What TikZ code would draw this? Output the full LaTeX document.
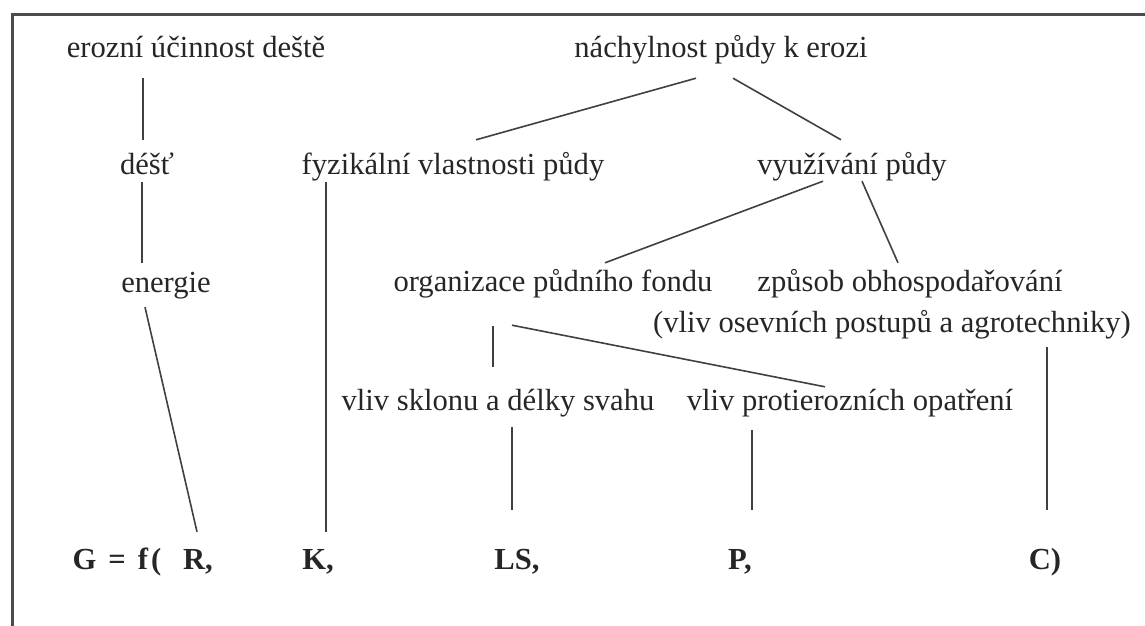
\documentclass[tikz,border=0pt]{standalone}
\usepackage{fontspec}
\setmainfont{Liberation Serif}
\usepackage{tikz}
\usepackage{xcolor}

\begin{document}
\begin{tikzpicture}[x=1pt,y=-1pt,
  every node/.style={font=\fontsize{30.6}{42}\selectfont,text=black!85,inner sep=0pt,text height=21pt,text depth=7pt},
  fac/.style={font=\fontsize{30.6}{42}\selectfont\bfseries},
  conn/.style={draw=black!75,line width=1.6pt}]
\useasboundingbox (0,0) rectangle (1145,626);
% frame (only top and left edge visible)
\draw[black!70,line width=3pt] (12,626) -- (12,15) -- (1145,15);
% first row
\node (eroz) at (196,50) {erozní účinnost deště};
\node (nach) at (721,50) {náchylnost půdy k erozi};
% second row
\node (dest) at (147,167) {déšť};
\node (fyz) at (453,167) {fyzikální vlastnosti půdy};
\node (vyuz) at (852,167) {využívání půdy};
% third row
\node (ener) at (166,285) {energie};
\node (org) at (553,284) {organizace půdního fondu};
\node (zpus) at (910,284) {způsob obhospodařování};
\node (osev) at (892,325) {(vliv osevních postupů a agrotechniky)};
% fourth row
\node (sklon) at (498,403) {vliv sklonu a délky svahu};
\node (opat) at (850,403) {vliv protierozních opatření};
% equation
\node[fac] (eq) at (117,562) {G\hspace{12pt}=\hspace{12pt}f\hspace{3pt}(};
\node[fac] (R) at (198,562) {R,};
\node[fac] (K) at (318,562) {K,};
\node[fac] (LS) at (517,562) {LS,};
\node[fac] (P) at (740,562) {P,};
\node[fac] (C) at (1045,562) {C)};
% connectors
\draw[conn] ([shift={(-53,14)}]eroz.south) -- ([shift={(-4,-13)}]dest.north);
\draw[conn] ([shift={(-5,1)}]dest.south) -- ([shift={(-24,-8)}]ener.north);
\draw[conn] ([shift={(-21,8)}]ener.south) -- ([shift={(-1,-16)}]R.north);
\draw[conn] ([shift={(-127,1)}]fyz.south) -- ([shift={(8,-16)}]K.north);
\draw[conn] ([shift={(-25,14)}]nach.south) -- ([shift={(23,-13)}]fyz.north);
\draw[conn] ([shift={(12,14)}]nach.south) -- ([shift={(-11,-13)}]vyuz.north);
\draw[conn] ([shift={(-29,0)}]vyuz.south) -- ([shift={(52,-7)}]org.north);
\draw[conn] ([shift={(10,0)}]vyuz.south) -- ([shift={(-12,-7)}]zpus.north);
\draw[conn] ([shift={(-60,28)}]org.south) -- ([shift={(-5,-22)}]sklon.north);
\draw[conn] ([shift={(-41,27)}]org.south) -- ([shift={(-25,-2)}]opat.north);
\draw[conn] ([shift={(14,10)}]sklon.south) -- ([shift={(-5,-38)}]LS.north);
\draw[conn] ([shift={(-98,13)}]opat.south) -- ([shift={(12,-38)}]P.north);
\draw[conn] ([shift={(155,8)}]osev.south) -- ([shift={(2,-38)}]C.north);
\end{tikzpicture}
\end{document}
